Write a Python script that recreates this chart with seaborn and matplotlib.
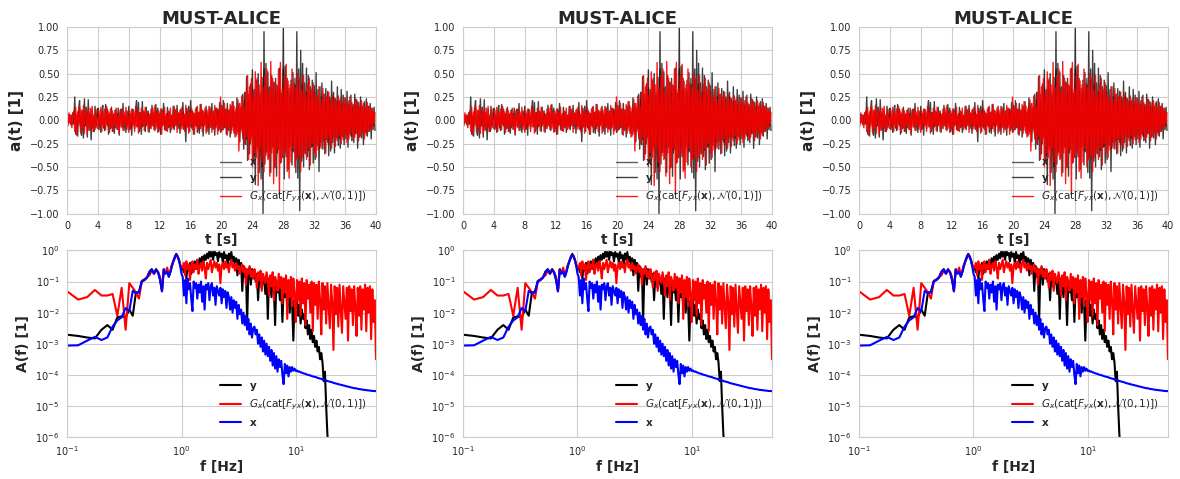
import numpy as np
import matplotlib
matplotlib.use("Agg")
import matplotlib.pyplot as plt
import seaborn as sns

sns.set_style("whitegrid")
plt.rcParams["font.family"] = ["DejaVu Sans"]
plt.rcParams["mathtext.fontset"] = "dejavusans"

# ---------------------------------------------------------------- data
# acceleration time histories, sampled every 0.125 s (y, G) / 0.25 s (x)
dt_fine = 0.125
dt_coarse = 0.25

acc_y = [
    0.04, -0.03, 0.06, 0.01, -0.05, 0.03, 0.08, -0.04,
    0.25, -0.15, 0.05, -0.17, 0.12, 0.21, -0.08, -0.16,
    0.10, -0.19, 0.23, -0.06, 0.14, -0.18, 0.22, -0.10,
    0.08, -0.21, 0.12, -0.04, -0.12, 0.15, -0.08, 0.06,
    0.13, -0.10, 0.05, -0.13, 0.09, 0.16, -0.06, -0.11,
    0.17, -0.04, 0.12, -0.15, 0.07, -0.09, 0.14, -0.12,
    0.06, -0.14, 0.11, 0.02, -0.10, 0.13, -0.16, 0.08,
    0.12, -0.08, 0.18, -0.11, 0.05, -0.13, 0.10, -0.05,
    0.15, -0.10, 0.07, -0.16, 0.12, 0.03, -0.09, 0.11,
    0.21, -0.07, 0.19, -0.12, 0.08, -0.15, 0.20, -0.06,
    0.09, -0.12, 0.14, -0.04, 0.10, -0.13, 0.06, -0.09,
    0.16, -0.06, 0.08, -0.11, 0.17, -0.03, 0.13, -0.12,
    0.07, -0.15, 0.12, -0.05, 0.18, -0.10, 0.04, -0.11,
    0.14, -0.08, 0.09, -0.13, 0.05, -0.06, 0.15, -0.10,
    0.11, -0.05, 0.16, -0.09, 0.07, -0.14, 0.12, -0.06,
    0.19, -0.10, 0.06, -0.23, 0.13, -0.07, 0.15, -0.12,
    0.21, -0.08, 0.10, -0.15, 0.07, -0.05, 0.14, -0.13,
    0.08, -0.14, 0.17, -0.06, 0.11, -0.17, 0.09, -0.04,
    0.15, -0.12, 0.07, -0.15, 0.14, -0.08, 0.18, -0.09,
    0.10, -0.16, 0.13, -0.05, 0.12, -0.11, 0.19, -0.13,
    0.16, -0.10, 0.21, -0.08, 0.12, -0.15, 0.18, -0.11,
    0.11, -0.18, 0.15, -0.07, 0.20, -0.14, 0.09, -0.17,
    0.24, -0.12, 0.18, -0.23, 0.14, -0.09, 0.28, -0.31,
    0.30, -0.26, 0.47, -0.43, 0.21, -0.36, 0.39, -0.18,
    0.54, -0.45, 0.33, -0.69, 0.43, -0.28, 0.50, -0.56,
    0.29, -0.63, 0.46, -1.00, 0.95, -0.47, 0.61, -0.34,
    0.52, -0.41, 0.36, -0.56, 0.48, -0.29, 0.41, -0.51,
    0.45, -0.60, 0.37, -0.31, 0.56, -0.46, 0.29, -0.40,
    1.00, -0.63, 0.58, -0.39, 0.45, -0.53, 0.34, -0.28,
    0.43, -0.48, 0.51, -0.34, 0.38, -0.56, 0.95, -0.62,
    0.55, -0.97, 0.75, -0.44, 0.61, -0.50, 0.40, -0.36,
    0.56, -0.39, 0.48, -0.53, 0.36, -0.29, 0.43, -0.46,
    0.37, -0.42, 0.51, -0.27, 0.33, -0.55, 0.36, -0.24,
    0.40, -0.31, 0.28, -0.36, 0.34, -0.21, 0.31, -0.38,
    0.25, -0.33, 0.42, -0.24, 0.30, -0.35, 0.23, -0.19,
    0.36, -0.27, 0.21, -0.30, 0.33, -0.17, 0.27, -0.26,
    0.24, -0.20, 0.31, -0.29, 0.21, -0.15, 0.27, -0.22,
    0.17, -0.24, 0.28, -0.14, 0.22, -0.30, 0.19, -0.18,
    0.25, -0.19, 0.15, -0.26, 0.20, -0.13, 0.23, -0.17,
    0.15, -0.12, 0.18, -0.20, 0.13, -0.10, 0.14, -0.11,
]

acc_g = [
    0.05, -0.06, 0.08, -0.02, 0.06, -0.08, 0.04, 0.10,
    -0.12, 0.14, -0.16, 0.09, -0.05, 0.15, -0.13, 0.11,
    -0.08, 0.16, -0.14, 0.07, 0.12, -0.15, 0.10, -0.11,
    0.13, -0.08, 0.15, -0.12, 0.06, -0.10, 0.12, -0.05,
    -0.09, 0.11, -0.06, 0.14, -0.12, 0.08, -0.07, 0.12,
    -0.10, 0.15, -0.05, 0.09, -0.13, 0.12, -0.08, 0.10,
    -0.12, 0.08, -0.06, 0.13, -0.09, 0.05, -0.14, 0.11,
    -0.07, 0.12, -0.11, 0.09, -0.05, 0.14, -0.10, 0.07,
    -0.13, 0.10, -0.08, 0.12, -0.06, 0.09, -0.12, 0.15,
    -0.07, 0.11, -0.14, 0.08, -0.09, 0.13, -0.06, 0.10,
    -0.11, 0.14, -0.05, 0.09, -0.12, 0.07, -0.08, 0.12,
    -0.06, 0.13, -0.10, 0.16, -0.09, 0.08, -0.13, 0.10,
    -0.08, 0.12, -0.15, 0.09, -0.05, 0.14, -0.11, 0.07,
    -0.12, 0.10, -0.07, 0.13, -0.10, 0.06, -0.09, 0.15,
    -0.06, 0.12, -0.13, 0.08, -0.04, 0.11, -0.10, 0.14,
    -0.09, 0.07, -0.12, 0.16, -0.08, 0.10, -0.14, 0.09,
    -0.06, 0.13, -0.10, 0.08, -0.15, 0.12, -0.07, 0.15,
    -0.11, 0.09, -0.08, 0.17, -0.12, 0.10, -0.06, 0.13,
    -0.14, 0.11, -0.09, 0.15, -0.07, 0.12, -0.13, 0.09,
    -0.10, 0.16, -0.08, 0.13, -0.15, 0.10, -0.09, 0.25,
    -0.12, 0.14, -0.10, 0.18, -0.07, 0.12, -0.16, 0.11,
    -0.09, 0.17, -0.14, 0.20, -0.11, 0.15, -0.18, 0.13,
    -0.15, 0.22, -0.33, 0.18, -0.12, 0.26, -0.20, 0.15,
    -0.25, 0.30, -0.18, 0.48, -0.42, 0.36, -0.22, 0.45,
    -0.50, 0.28, -0.35, 0.52, -0.40, 0.45, -0.70, 0.38,
    -0.30, 0.62, -0.45, 0.35, -0.55, 0.48, -0.38, 0.55,
    -0.42, 0.30, -0.60, 0.63, -0.35, 0.45, -0.68, 0.40,
    -0.50, 0.38, -0.30, 0.55, -0.80, 0.62, -0.45, 0.33,
    -0.40, 0.48, -0.35, 0.60, -0.55, 0.42, -0.62, 0.38,
    -0.45, 0.55, -0.30, 0.40, -0.50, 0.35, -0.42, 0.50,
    -0.38, 0.45, -0.55, 0.32, -0.40, 0.48, -0.35, 0.28,
    -0.42, 0.38, -0.30, 0.45, -0.48, 0.33, -0.25, 0.40,
    -0.35, 0.30, -0.40, 0.25, -0.32, 0.36, -0.28, 0.22,
    -0.30, 0.34, -0.22, 0.28, -0.35, 0.25, -0.20, 0.30,
    -0.26, 0.22, -0.30, 0.27, -0.18, 0.24, -0.28, 0.20,
    -0.22, 0.26, -0.17, 0.23, -0.25, 0.19, -0.21, 0.24,
    -0.18, 0.22, -0.24, 0.17, -0.20, 0.25, -0.15, 0.19,
    -0.21, 0.16, -0.18, 0.23, -0.14, 0.20, -0.22, 0.15,
    -0.17, 0.21, -0.13, 0.18, -0.20, 0.14, -0.16, 0.19,
    -0.12, 0.15, -0.10, 0.13, -0.09, 0.12, -0.05, 0.08,
]

acc_x = [
    0.02, -0.03, 0.05, -0.04, 0.10, -0.08, 0.09, -0.06,
    0.08, -0.07, 0.10, -0.05, 0.06, -0.08, 0.04, -0.05,
    0.07, -0.05, 0.06, -0.08, 0.09, -0.06, 0.05, -0.07,
    0.06, -0.08, 0.07, -0.05, 0.08, -0.06, 0.04, -0.05,
    0.07, -0.08, 0.05, -0.04, 0.10, -0.06, 0.08, -0.07,
    0.05, -0.06, 0.07, -0.05, 0.08, -0.04, 0.06, -0.07,
    0.05, -0.07, 0.09, -0.05, 0.07, -0.06, 0.05, -0.08,
    0.06, -0.05, 0.08, -0.07, 0.09, -0.10, 0.07, -0.06,
    0.10, -0.07, 0.05, -0.06, 0.08, -0.09, 0.06, -0.05,
    0.09, -0.07, 0.07, -0.06, 0.06, -0.08, 0.10, -0.07,
    0.09, -0.08, 0.10, -0.09, 0.08, -0.10, 0.11, -0.09,
    0.12, -0.14, 0.10, -0.16, 0.22, -0.20, 0.28, -0.25,
    0.35, -0.38, 0.30, -0.32, 0.25, -0.50, 0.55, -0.35,
    0.35, -0.30, 0.32, -0.28, 0.30, -0.35, 0.33, -0.25,
    0.55, -0.30, 0.32, -0.30, 0.30, -0.33, 0.45, -0.40,
    0.42, -0.35, 0.38, -0.30, 0.30, -0.32, 0.28, -0.28,
    0.30, -0.25, 0.22, -0.30, 0.25, -0.22, 0.20, -0.24,
    0.22, -0.20, 0.25, -0.18, 0.20, -0.19, 0.17, -0.18,
    0.17, -0.15, 0.16, -0.17, 0.13, -0.15, 0.14, -0.12,
    0.14, -0.12, 0.11, -0.13, 0.10, -0.09, 0.08, -0.06,
]

# Fourier amplitude spectra, log10 A(f)
# low band: f = k / 40 Hz, k = 4..40 ; high band: 160 log-spaced bins in (1, 50] Hz
spec_y_low = [
    -2.71, -2.75, -2.80, -2.83, -2.55, -2.40, -2.55, -2.15, -2.12, -2.15,
    -1.90, -2.10, -1.35, -1.33, -0.98, -0.93, -0.86, -0.68, -0.60, -0.73,
    -0.60, -0.70, -0.93, -1.30, -0.60, -0.73, -0.66, -0.83, -0.68, -0.48,
    -0.33, -0.20, -0.11, -0.18, -0.30, -0.48, -0.60,
]
spec_g_low = [
    -1.31, -1.58, -1.50, -1.27, -1.45, -1.45, -1.40, -2.10, -1.20, -2.55,
    -1.05, -1.20, -1.35, -1.55, -1.00, -0.95, -0.85, -0.80, -0.65, -0.75,
    -0.62, -0.70, -0.85, -1.30, -0.60, -0.72, -0.55, -0.80, -0.65, -0.45,
    -0.35, -0.25, -0.15, -0.20, -0.30, -0.45, -0.55,
]
spec_x_low = [
    -3.06, -3.05, -2.90, -2.78, -2.88, -2.80, -2.45, -2.25, -2.15, -1.85,
    -1.95, -1.30, -1.38, -1.35, -1.00, -0.95, -0.88, -0.70, -0.62, -0.75,
    -0.62, -0.72, -0.95, -1.32, -0.62, -0.75, -0.68, -0.85, -0.70, -0.50,
    -0.35, -0.22, -0.13, -0.20, -0.32, -0.50, -0.75,
]

spec_y_high = [
    -0.55, -0.70, -0.45, -0.90, -0.50, -0.65, -0.40, -0.75, -0.55, -0.45,
    -0.35, -0.60, -0.30, -0.50, -0.25, -0.45, -0.20, -0.40, -0.15, -0.30,
    -0.10, -0.25, 0.00, -0.20, -0.05, -0.30, -0.02, -0.15, -0.08, -0.35,
    -0.05, -0.20, -0.10, -0.40, -0.05, -0.25, -0.15, -0.45, -0.10, -0.30,
    -0.05, -0.35, -0.20, -0.55, -0.25, -0.80, -0.30, -0.60, -0.40, -1.30,
    -0.50, -0.85, -0.60, -2.30, -0.70, -0.55, -1.10, -0.60, -0.90, -0.70,
    -1.00, -0.75, -1.60, -0.85, -0.70, -1.20, -0.90, -0.95, -1.40, -0.80,
    -2.20, -0.90, -1.05, -1.50, -0.95, -1.25, -2.40, -1.00, -1.35, -1.15,
    -1.60, -1.10, -2.30, -1.25, -1.50, -1.30, -1.75, -1.40, -2.00, -1.45,
    -1.70, -2.90, -1.60, -1.90, -1.55, -2.10, -1.75, -2.35, -1.90, -2.20,
    -2.05, -2.50, -2.25, -2.70, -2.40, -2.85, -2.55, -2.95, -2.75, -3.10,
    -2.90, -3.25, -3.10, -3.50, -3.30, -3.60, -4.20, -3.90, -5.00, -5.90,
    -6.50,
]
spec_g_high = [
    -0.55, -0.40, -0.80, -0.35, -0.60, -0.45, -0.95, -0.50, -0.35, -0.70,
    -0.45, -0.60, -0.30, -0.75, -0.50, -0.40, -0.65, -0.35, -0.55, -0.90,
    -0.40, -0.60, -0.45, -0.30, -0.70, -0.50, -0.35, -0.55, -0.40, -0.65,
    -0.45, -1.05, -0.50, -0.40, -0.60, -0.35, -0.55, -0.45, -0.70, -0.40,
    -0.30, -0.55, -0.45, -0.65, -0.40, -0.60, -0.50, -0.75, -0.55, -0.45,
    -0.70, -0.55, -1.10, -0.60, -0.75, -0.50, -0.85, -0.65, -0.90, -0.60,
    -0.80, -1.20, -0.70, -0.95, -0.65, -1.30, -0.75, -0.90, -1.05, -0.70,
    -0.95, -1.45, -0.80, -1.15, -0.70, -1.60, -0.85, -1.00, -1.30, -0.75,
    -1.20, -0.85, -1.70, -0.90, -1.35, -0.80, -2.20, -0.95, -1.50, -0.85,
    -1.80, -0.90, -1.40, -2.30, -0.95, -1.60, -1.00, -2.10, -0.90, -1.70,
    -1.05, -2.40, -0.95, -1.55, -1.10, -2.00, -1.00, -2.60, -1.05, -1.75,
    -1.10, -2.20, -1.00, -1.60, -2.70, -1.05, -1.90, -1.15, -2.35, -1.05,
    -1.80, -2.50, -1.10, -1.65, -3.20, -1.15, -2.05, -1.20, -2.45, -1.10,
    -1.85, -2.65, -1.15, -1.70, -2.20, -1.20, -2.90, -1.15, -1.95, -1.25,
    -2.40, -1.15, -1.80, -2.75, -1.20, -2.10, -1.15, -2.55, -1.25, -1.90,
    -1.10, -2.60, -1.20, -2.00, -1.15, -2.85, -1.25, -2.30, -1.60, -3.50,
]
spec_x_high = [
    -0.85, -1.45, -0.95, -1.70, -0.90, -1.25, -1.05, -1.55, -1.95, -1.00,
    -1.20, -1.05, -1.55, -1.10, -1.35, -1.00, -1.65, -1.15, -1.90, -1.10,
    -1.25, -1.05, -1.60, -1.15, -1.05, -1.45, -1.20, -1.75, -1.15, -1.30,
    -1.45, -1.20, -1.70, -1.25, -1.50, -1.30, -1.85, -1.35, -1.50, -1.90,
    -1.50, -2.00, -1.60, -1.85, -1.65, -2.20, -1.75, -2.05, -1.90, -2.35,
    -2.00, -2.40, -2.10, -2.55, -2.20, -2.70, -2.35, -2.80, -2.50, -2.45,
    -2.70, -2.55, -3.00, -2.70, -3.10, -2.80, -3.25, -2.90, -3.35, -3.00,
    -3.40, -3.10, -3.55, -3.20, -3.70, -3.30, -3.80, -3.40, -3.90, -3.50,
    -3.75, -3.55, -4.00, -4.30, -3.65, -3.95, -3.70, -4.05, -3.75, -3.90,
    -3.75, -3.87, -3.80, -3.88, -3.86, -3.90, -3.89, -3.92, -3.93, -3.95,
    -3.96, -3.97, -3.99, -4.00, -4.01, -4.02, -4.04, -4.05, -4.06, -4.07,
    -4.08, -4.10, -4.11, -4.12, -4.13, -4.15, -4.16, -4.17, -4.18, -4.20,
    -4.21, -4.22, -4.23, -4.24, -4.26, -4.27, -4.28, -4.29, -4.30, -4.31,
    -4.32, -4.33, -4.34, -4.35, -4.36, -4.37, -4.38, -4.39, -4.40, -4.41,
    -4.42, -4.43, -4.43, -4.44, -4.45, -4.46, -4.46, -4.47, -4.48, -4.48,
    -4.49, -4.49, -4.50, -4.50, -4.51, -4.51, -4.52, -4.52, -4.52, -4.53,
]

panel_titles = ["MUST-ALICE", "MUST-ALICE", "MUST-ALICE"]
time_ticks = list(range(0, 41, 4))
label_g = r"$G_x(\mathrm{cat}[F_{yx}(\mathbf{x}),\mathcal{N}(0,1)])$"
label_x = r"$\mathbf{x}$"
label_y = r"$\mathbf{y}$"

# ---------------------------------------------------------------- derived axes
t_fine = np.arange(len(acc_y)) * dt_fine
t_coarse = np.arange(len(acc_x)) * dt_coarse
freq = np.concatenate([np.arange(4, 41) / 40.0, np.geomspace(1.0, 50.0, 161)[1:]])
amp_y = 10.0 ** np.array(spec_y_low + spec_y_high)
amp_g = 10.0 ** np.array(spec_g_low + spec_g_high)
amp_x = 10.0 ** np.array(spec_x_low + spec_x_high)

# ---------------------------------------------------------------- figure
fig, axes = plt.subplots(2, 3, figsize=(11.8, 4.79), dpi=100)
fig.subplots_adjust(left=0.0568, right=0.9898, top=0.9436, bottom=0.0877,
                    wspace=0.2816, hspace=0.198)

tick_fs = 7
lab_fs = 10

for col in range(3):
    ax = axes[0, col]
    sns.lineplot(x=t_coarse, y=acc_x, ax=ax, color="0.2", lw=1.0, alpha=0.8,
                 label=label_x, estimator=None)
    sns.lineplot(x=t_fine, y=acc_y, ax=ax, color="black", lw=1.0, alpha=0.75,
                 label=label_y, estimator=None)
    sns.lineplot(x=t_fine, y=acc_g, ax=ax, color="red", lw=1.0, alpha=0.9,
                 label=label_g, estimator=None)
    ax.set_xlim(0, 40)
    ax.set_ylim(-1, 1)
    ax.set_xticks(time_ticks)
    ax.set_yticks(np.arange(-1.0, 1.01, 0.25))
    ax.set_title(panel_titles[col], fontsize=13, fontweight="bold", pad=2)
    ax.set_xlabel("t [s]", fontsize=lab_fs, fontweight="bold", labelpad=1)
    ax.set_ylabel("a(t) [1]", fontsize=11, fontweight="bold")
    ax.tick_params(labelsize=tick_fs, pad=2)
    ax.legend(loc="lower right", frameon=False, fontsize=7.5)

    ax = axes[1, col]
    sns.lineplot(x=freq[:len(amp_y)], y=amp_y, ax=ax, color="black", lw=1.5,
                 label=label_y, estimator=None)
    sns.lineplot(x=freq, y=amp_g, ax=ax, color="red", lw=1.5,
                 label=label_g, estimator=None)
    sns.lineplot(x=freq, y=amp_x, ax=ax, color="blue", lw=1.5,
                 label=label_x, estimator=None)
    ax.set_xscale("log")
    ax.set_yscale("log")
    ax.set_xlim(0.1, 50)
    ax.set_ylim(1e-6, 1)
    ax.set_xlabel("f [Hz]", fontsize=lab_fs, fontweight="bold", labelpad=1)
    ax.set_ylabel("A(f) [1]", fontsize=lab_fs, fontweight="bold")
    ax.tick_params(labelsize=tick_fs, pad=2)
    ax.legend(loc="lower right", frameon=False, fontsize=7.5)

fig.savefig("out.png", dpi=100)
